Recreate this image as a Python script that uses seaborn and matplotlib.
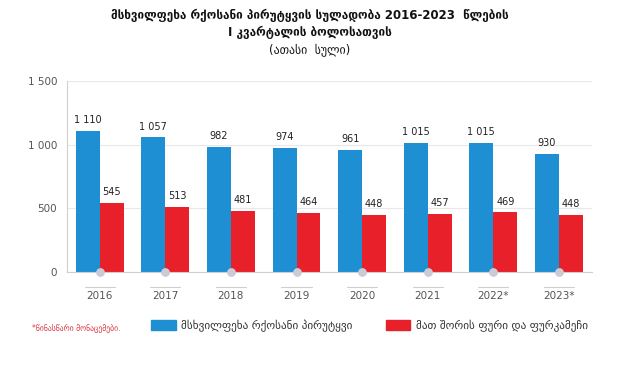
import pandas as pd
import matplotlib.pyplot as plt
import matplotlib.transforms as mtransforms
import seaborn as sns

years = ['2016', '2017', '2018', '2019', '2020', '2021', '2022*', '2023*']
cattle = [1110, 1057, 982, 974, 961, 1015, 1015, 930]
cows = [545, 513, 481, 464, 448, 457, 469, 448]
series_names = ['მსხვილფეხა რქოსანი პირუტყვი', 'მათ შორის ფური და ფურკამეჩი']
colors = ['#1e8fd2', '#e8202a']

df = pd.DataFrame({
    'year': years * 2,
    'value': cattle + cows,
    'series': [series_names[0]] * len(years) + [series_names[1]] * len(years),
})

sns.set_style('white')
plt.rcParams['font.family'] = ['DejaVu Sans']

fig = plt.figure(figsize=(6.19, 3.67), dpi=100)
ax = fig.add_axes([0.108, 0.259, 0.848, 0.52])

sns.barplot(data=df, x='year', y='value', hue='series', palette=colors,
            width=0.73, saturation=1, linewidth=0, ax=ax, legend=False)

# value labels
for cont in ax.containers:
    labels = [f'{int(v):,}'.replace(',', ' ') for v in cont.datavalues]
    ax.bar_label(cont, labels=labels, padding=4, fontsize=7, color='#222222')

ax.set_ylim(0, 1500)
ax.set_xlim(-0.5, len(years) - 0.5)
ax.set_yticks([0, 500, 1000, 1500])
ax.set_yticklabels(['0', '500', '1 000', '1 500'])
ax.yaxis.grid(True, color='#e8e8e8', lw=0.8)
ax.set_axisbelow(True)
ax.set_xlabel('')
ax.set_ylabel('')

for s in ['top', 'right']:
    ax.spines[s].set_visible(False)
for s in ['left', 'bottom']:
    ax.spines[s].set_color('#cfcfcf')
    ax.spines[s].set_linewidth(0.8)

ax.tick_params(axis='y', length=4, color='#cfcfcf', labelsize=7.5, labelcolor='#555555', pad=3)
ax.tick_params(axis='x', length=11, color='#cfcfcf', width=0.8, labelsize=7.5,
               labelcolor='#555555', pad=3)

# decoration: dot at the baseline and short bar under every tick
trans = mtransforms.blended_transform_factory(ax.transData, ax.transAxes)
xs = range(len(years))
ax.scatter(list(xs), [0] * len(years), s=28, color='#c9ccd6', zorder=5, clip_on=False)
for x in xs:
    ax.plot([x - 0.23, x + 0.23], [-0.079, -0.079], transform=trans, color='#cfcfcf',
            lw=0.8, clip_on=False)

# titles
fig.text(0.5, 0.958, 'მსხვილფეხა რქოსანი პირუტყვის სულადობა 2016-2023  წლების',
         ha='center', va='center', fontsize=8.5, fontweight='bold', color='#111111')
fig.text(0.5, 0.912, 'I კვარტალის ბოლოსათვის', ha='center', va='center',
         fontsize=8.5, fontweight='bold', color='#111111')
fig.text(0.5, 0.865, '(ათასი  სული)', ha='center', va='center', fontsize=8.5,
         color='#111111')

# footnote
fig.text(0.052, 0.108, '*წინასწარი მონაცემები.', ha='left', va='center',
         fontsize=5.5, color='#d9343c')

# legend
handles = [plt.Rectangle((0, 0), 1, 1, color=c) for c in colors]
fig.legend(handles, series_names, loc='center left', bbox_to_anchor=(0.228, 0.112),
           ncol=2, frameon=False, fontsize=8, handlelength=2.2, handleheight=1.0,
           handletextpad=0.5, columnspacing=3.0, labelcolor='#333333')

fig.savefig('out.png', dpi=100)
